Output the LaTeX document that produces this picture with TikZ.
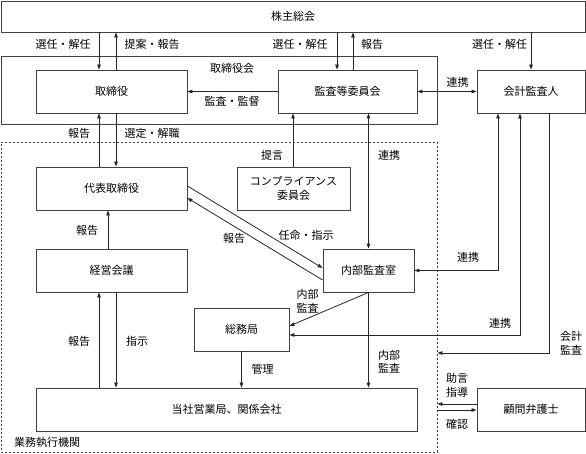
\documentclass[tikz,border=0pt]{standalone}
\usepackage{fontspec}
\setmainfont{Noto Sans CJK JP}
\usetikzlibrary{arrows.meta}
\begin{document}
\begin{tikzpicture}[x=1pt,y=-1pt,
  box/.style={draw=black!75,line width=0.9pt,rectangle,inner sep=0pt,minimum height=43pt},
  lbl/.style={inner sep=0pt,align=center,font=\fontsize{11}{13.5}\selectfont},
  txt/.style={font=\fontsize{11}{13.5}\selectfont},
  arr/.style={draw=black!85,line width=0.8pt,-{Triangle[length=5pt,width=3.6pt]}},
  darr/.style={draw=black!85,line width=0.8pt,{Triangle[length=5pt,width=3.6pt]}-{Triangle[length=5pt,width=3.6pt]}},
  ]
\useasboundingbox (0,0) rectangle (586,453);
% containers
\node[box,minimum width=436pt,minimum height=68pt] (board) at (219,90) {};
\node[draw=black!75,line width=0.9pt,dash pattern=on 2pt off 2pt,rectangle,inner sep=0pt,minimum width=436pt,minimum height=310pt] (exec) at (219,297) {};
% boxes
\node[box,minimum width=584pt,minimum height=31pt,txt] (sh) at (293,16.5) {株主総会};
\node[box,minimum width=151pt,txt] (tori) at (111.5,91.5) {取締役};
\node[box,minimum width=139pt,txt] (kansa) at (347.5,91.5) {監査等委員会};
\node[box,minimum width=108pt,txt] (kaikei) at (531,91.5) {会計監査人};
\node[box,minimum width=151pt,txt] (daihyo) at (111.5,188.5) {代表取締役};
\node[box,minimum width=113pt,txt,align=center] (comp) at (293.5,188.5) {コンプライアンス\\委員会};
\node[box,minimum width=151pt,txt] (keiei) at (111.5,270.5) {経営会議};
\node[box,minimum width=91pt,txt] (naibu) at (368.5,270.5) {内部監査室};
\node[box,minimum width=95pt,txt] (somu) at (241.5,329.5) {総務局};
\node[box,minimum width=381pt,txt] (tosha) at (226.5,409.5) {当社営業局、関係会社};
\node[box,minimum width=108pt,txt] (komon) at (531,409.5) {顧問弁護士};
% container labels
\node[lbl] (lboard) at (232,68) {取締役会};
\node[lbl,anchor=west] (lexec) at (14,442) {業務執行機関};
% connectors
\draw[arr] (sh.south -| 99,0) -- (tori.north -| 99,0);
\draw[arr] (tori.north -| 116,0) -- (sh.south -| 116,0);
\draw[arr] (sh.south -| 337,0) -- (kansa.north -| 337,0);
\draw[arr] (kansa.north -| 353,0) -- (sh.south -| 353,0);
\draw[arr] (sh.south -| kaikei.north) -- (kaikei.north);
\draw[arr] (kansa.west) -- (tori.east);
\draw[darr] (kansa.east) -- (kaikei.west);
\draw[arr] (daihyo.north -| 99,0) -- (tori.south -| 99,0);
\draw[arr] (tori.south -| 116,0) -- (daihyo.north -| 116,0);
\draw[arr] (comp.north -| 293,0) -- (kansa.south -| 293,0);
\draw[darr] (kansa.south -| naibu.north) -- (naibu.north);
\draw[arr] (daihyo.east |- 0,186) -- (naibu.west |- 0,268);
\draw[arr] (naibu.west |- 0,280) -- (daihyo.east |- 0,198);
\draw[arr] (keiei.north -| 108,0) -- (daihyo.south -| 108,0);
\draw[arr] (tosha.north -| 99,0) -- (keiei.south -| 99,0);
\draw[arr] (keiei.south -| 116,0) -- (tosha.north -| 116,0);
\draw[arr] (somu.south) -- (tosha.north -| somu.south);
\draw[arr] (naibu.south) -- (somu.east |- 0,326);
\draw[arr] (naibu.south) -- (tosha.north -| naibu.south);
\draw[darr] (naibu.east) -| (kaikei.south -| 498,0);
\draw[darr] (somu.east |- 0,335) -| (kaikei.south -| 520,0);
\draw[arr] (kaikei.south -| 549,0) |- (exec.east |- 0,353);
\draw[arr] (komon.west |- 0,404) -- (exec.east |- 0,404);
\draw[arr] (exec.east |- 0,410) -- (komon.west |- 0,410);
% labels
\node[lbl] (l1) at (63,44) {選任・解任};
\node[lbl] (l2) at (152,44) {提案・報告};
\node[lbl] (l3) at (300,44) {選任・解任};
\node[lbl] (l4) at (372,44) {報告};
\node[lbl] (l5) at (499.5,44) {選任・解任};
\node[lbl] (l6) at (232,101) {監査・監督};
\node[lbl] (l7) at (457.5,82) {連携};
\node[lbl] (l8) at (79,133) {報告};
\node[lbl] (l9) at (152,133) {選定・解職};
\node[lbl] (l10) at (272,155) {提言};
\node[lbl] (l11) at (389,155) {連携};
\node[lbl] (l12) at (87,230) {報告};
\node[lbl] (l13) at (234,238) {報告};
\node[lbl] (l14) at (306,235) {任命・指示};
\node[lbl] (l15) at (468,257) {連携};
\node[lbl] (l16) at (307.5,301) {内部\\監査};
\node[lbl] (l17) at (79,341) {報告};
\node[lbl] (l18) at (137,341) {指示};
\node[lbl] (l19) at (262.5,369) {管理};
\node[lbl] (l20) at (500,323) {連携};
\node[lbl] (l21) at (571,343) {会計\\監査};
\node[lbl] (l22) at (389,361.5) {内部\\監査};
\node[lbl] (l23) at (457,385.5) {助言\\指導};
\node[lbl] (l24) at (457,424) {確認};
\end{tikzpicture}
\end{document}
